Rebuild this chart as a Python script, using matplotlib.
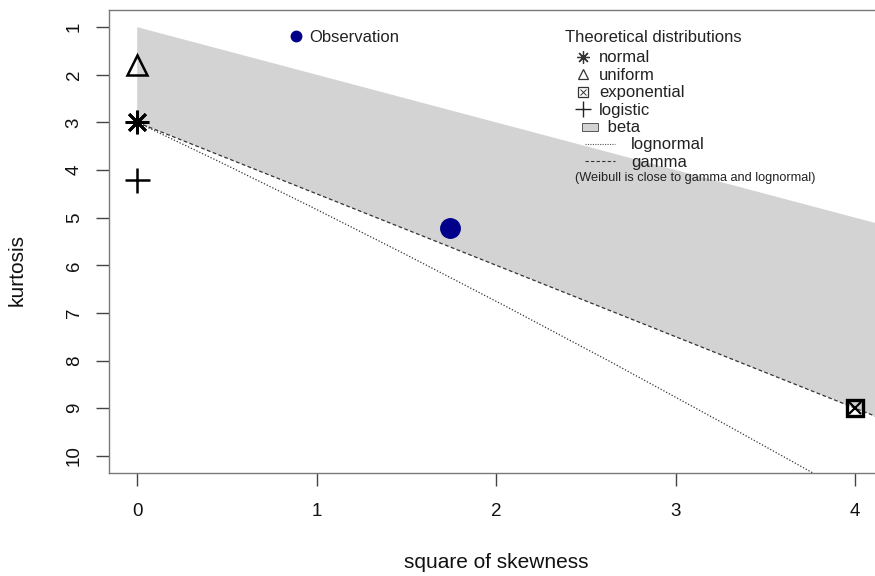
import numpy as np
import matplotlib
matplotlib.use("Agg")
import matplotlib.pyplot as plt

plt.rcParams['font.family'] = ['Liberation Sans', 'DejaVu Sans']

# Observed sample (square of skewness, kurtosis)
obs_skew2 = [1.74]
obs_kurt = [5.22]

# Theoretical single-point distributions
normal_pt = (0.0, 3.0)
uniform_pt = (0.0, 1.8)
exponential_pt = (4.0, 9.0)
logistic_pt = (0.0, 4.2)

# Beta region boundaries (upper limit and gamma line)
beta_upper_x = [0.0, 4.16]
beta_upper_y = [1.0, 5.16]
gamma_x = [0.0, 4.16]
gamma_y = [3.0, 9.24]

# Lognormal curve
lognorm_x = [0.0, 0.465, 0.961, 1.488, 2.048, 2.641, 3.267, 3.793, 3.928]
lognorm_y = [3.0, 3.838, 4.756, 5.758, 6.85, 8.035, 9.32, 10.42, 10.71]

x_ticks = [0, 1, 2, 3, 4]
y_ticks = [1, 2, 3, 4, 5, 6, 7, 8, 9, 10]

W, H = 875, 576
fig = plt.figure(figsize=(W / 100, H / 100), dpi=100)
left, right, top, bottom = 108.5, 884.0, 10.0, 473.0
ax = fig.add_axes([left / W, 1 - bottom / H, (right - left) / W, (bottom - top) / H])
ax.set_xlim(-0.16, 4.16)
ax.set_ylim(10.36, 0.64)

# beta region
poly_x = beta_upper_x + gamma_x[::-1]
poly_y = beta_upper_y + gamma_y[::-1]
ax.fill(poly_x, poly_y, color='#D3D3D3', lw=0, zorder=1)

ax.plot(gamma_x, gamma_y, color='#333333', lw=0.9, ls=(0, (3, 2)), zorder=2)
ax.plot(lognorm_x, lognorm_y, color='#333333', lw=0.9, ls=(0, (1, 1.5)), zorder=2)

ax.plot(*uniform_pt, marker='^', ms=15, mfc='none', mec='black', mew=1.8, zorder=4)
ax.plot(*normal_pt, marker=(8, 2, 0), ms=17, mec='black', mew=2.0, zorder=4)
ax.plot(*logistic_pt, marker='+', ms=18, mec='black', mew=1.8, zorder=4)
ax.plot(*exponential_pt, marker='s', ms=12, mfc='none', mec='black', mew=2.4, zorder=4)
ax.plot(*exponential_pt, marker='x', ms=9, mec='black', mew=1.6, zorder=4)

ax.plot(obs_skew2, obs_kurt, 'o', ms=14, color='#00008B', zorder=5)

spine_col = '#7a7a7a'
for s in ax.spines.values():
    s.set_color(spine_col)
    s.set_linewidth(1.0)

ax.set_xticks(x_ticks)
ax.set_yticks(y_ticks)
ax.tick_params(axis='both', direction='out', length=9.5, width=1.0, color='#444444',
               labelsize=13.5, labelcolor='#111111')
ax.tick_params(axis='x', pad=12)
ax.tick_params(axis='y', pad=9)
for lab in ax.get_yticklabels():
    lab.set_rotation(90)
    lab.set_va('center')

fig.text(496 / W, 1 - 563 / H, 'square of skewness', ha='center', va='center',
         fontsize=15, color='#111111')
fig.text(17 / W, 1 - 270 / H, 'kurtosis', ha='center', va='center',
         rotation=90, fontsize=15, color='#111111')

# Legends drawn on an overlay in pixel coordinates
ov = fig.add_axes([0, 0, 1, 1])
ov.set_xlim(0, W)
ov.set_ylim(H, 0)
ov.axis('off')
ov.patch.set_alpha(0)

fs_leg = 12
ov.plot(296, 36, 'o', ms=7.5, color='#00008B')
ov.text(309, 37, 'Observation', ha='left', va='center', fontsize=fs_leg, color='#222222')

ov.text(565, 37, 'Theoretical distributions', ha='left', va='center', fontsize=fs_leg,
        color='#222222')
ov.plot(583, 57, marker=(8, 2, 0), ms=9, mec='#333333', mew=0.9)
ov.text(599, 58, 'normal', ha='left', va='center', fontsize=fs_leg, color='#222222')
ov.plot(583, 74, marker='^', ms=7.5, mfc='none', mec='#333333', mew=0.9)
ov.text(599, 75, 'uniform', ha='left', va='center', fontsize=fs_leg, color='#222222')
ov.plot(583, 92, marker='s', ms=6.5, mfc='none', mec='#333333', mew=0.9)
ov.plot(583, 92, marker='x', ms=4.5, mec='#333333', mew=0.7)
ov.text(599, 92, 'exponential', ha='left', va='center', fontsize=fs_leg, color='#222222')
ov.plot(583, 109, marker='+', ms=11, mec='#222222', mew=1.0)
ov.text(599, 110, 'logistic', ha='left', va='center', fontsize=fs_leg, color='#222222')
ov.add_patch(plt.Rectangle((582, 123), 16, 8, facecolor='#D3D3D3', edgecolor='#555555', lw=0.7))
ov.text(603, 128, ' beta', ha='left', va='center', fontsize=fs_leg, color='#222222')
ov.plot([585, 615], [144, 144], color='#555555', lw=0.8, ls=(0, (1, 1.2)))
ov.text(631, 145, 'lognormal', ha='left', va='center', fontsize=fs_leg, color='#222222')
ov.plot([585, 615], [161, 161], color='#333333', lw=0.8, ls=(0, (3, 2)))
ov.text(631, 162, 'gamma', ha='left', va='center', fontsize=fs_leg, color='#222222')
ov.text(575, 178, '(Weibull is close to gamma and lognormal)', ha='left', va='center',
        fontsize=9.2, color='#222222')

fig.savefig('out.png', dpi=100)
